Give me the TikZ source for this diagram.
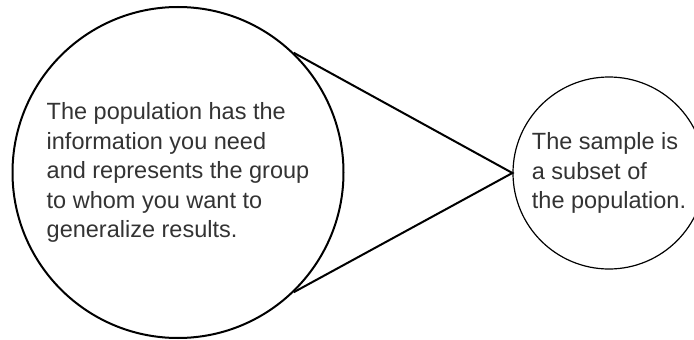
\documentclass[tikz,border=0pt]{standalone}
\usepackage{fontspec}
\setmainfont{Liberation Sans}
\usepackage{tikz}
\definecolor{textgray}{HTML}{333333}

\begin{document}
\begin{tikzpicture}[x=1pt, y=-1pt,
    font=\fontsize{23.5}{29.5}\selectfont,
    group/.style={circle, draw, align=left, text=textgray, inner sep=0pt}]
  \useasboundingbox (0,0) rectangle (694,340);

  \node (population) [group, line width=2pt, minimum size=331pt] at (178,172.5)
    {The population has the\\information you need\\and represents the group\\to whom you want to\\generalize results.};
  \node (sample) [group, line width=1.2pt, minimum size=192pt] at (609,173)
    {The sample is\\a subset of\\the population.};

  \draw[line width=2pt] (population.46) -- (sample.west) -- (population.-46);
\end{tikzpicture}
\end{document}
